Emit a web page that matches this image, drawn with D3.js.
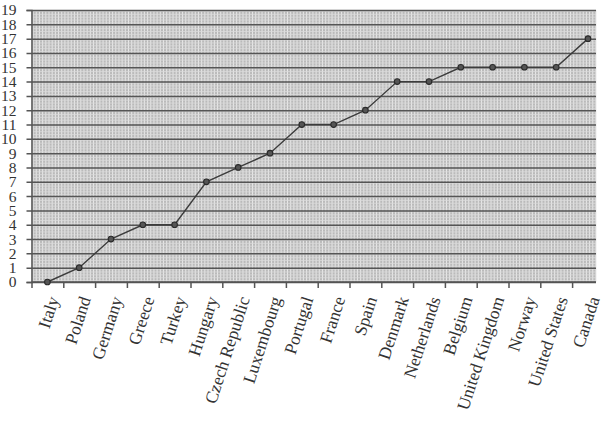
<!DOCTYPE html>
<html>
<head>
<meta charset="utf-8">
<script src="https://cdn.jsdelivr.net/npm/d3@7"></script>
<style>
  body { margin: 0; background: #fff; }
  svg text { font-family: "Liberation Serif", "DejaVu Serif", serif; fill: #333; }
</style>
</head>
<body>
<svg id="chart" width="609" height="424"></svg>
<script>
// values
var countries = ["Italy", "Poland", "Germany", "Greece", "Turkey", "Hungary", "Czech Republic",
  "Luxembourg", "Portugal", "France", "Spain", "Denmark", "Netherlands", "Belgium",
  "United Kingdom", "Norway", "United States", "Canada"];
var ranks = [0, 1, 3, 4, 4, 7, 8, 9, 11, 11, 12, 14, 14, 15, 15, 15, 15, 17];
var yTicks = d3.range(0, 20);

var svg = d3.select("#chart");
var plotLeft = 31.5, plotTop = 10, plotBottom = 282, plotRight = 596;

var x = d3.scaleBand().domain(countries).range([plotLeft, plotLeft + 18 * 31.8]);
var y = d3.scaleLinear().domain([0, 19]).range([plotBottom, plotTop]);

// gray background with fine light grid
svg.append("rect")
  .attr("x", plotLeft).attr("y", plotTop)
  .attr("width", plotRight - plotLeft).attr("height", plotBottom - plotTop)
  .attr("fill", "#bababa");

var minorX = d3.range(plotLeft + 1.6, plotRight, x.step() / 10);
svg.append("g").selectAll("line").data(minorX).join("line")
  .attr("x1", d => d).attr("x2", d => d)
  .attr("y1", plotTop).attr("y2", plotBottom)
  .attr("stroke", "#e8e8e8").attr("stroke-width", 1);

var minorY = d3.range(0, 19, 0.2);
svg.append("g").selectAll("line").data(minorY).join("line")
  .attr("x1", plotLeft).attr("x2", plotRight)
  .attr("y1", d => y(d) - 1.4).attr("y2", d => y(d) - 1.4)
  .attr("stroke", "#dadada").attr("stroke-width", 0.8);

// major horizontal gridlines, with the y axis ticks
var yAxis = d3.axisLeft(y).tickValues(yTicks).tickSize(5).tickFormat(d3.format("d"));
var gy = svg.append("g").attr("transform", "translate(" + plotLeft + ",0)").call(yAxis);
gy.select(".domain").attr("stroke", "#555").attr("stroke-width", 1.5);
gy.selectAll(".tick line").attr("stroke", "#555").attr("stroke-width", 1.5)
  .attr("x1", -5).attr("x2", plotRight - plotLeft);
gy.selectAll(".tick text")
  .attr("x", -15)
  .style("font-size", "15.5px")
  .style("font-family", "Liberation Serif, serif")
  .attr("fill", "#333");

// x axis: ticks at band edges
var xAxis = d3.axisBottom(x).tickSize(6).tickFormat("");
var gx = svg.append("g").attr("transform", "translate(0," + plotBottom + ")").call(xAxis);
gx.select(".domain").remove();
gx.selectAll(".tick").attr("transform", d => "translate(" + (x(d) + 0.5) + ",0)");
gx.selectAll(".tick line").attr("stroke", "#555").attr("stroke-width", 1.5);
svg.append("line")
  .attr("x1", plotLeft).attr("x2", plotRight)
  .attr("y1", plotBottom).attr("y2", plotBottom)
  .attr("stroke", "#555").attr("stroke-width", 1.5);

// rotated category labels
svg.append("g").selectAll("text").data(countries).join("text")
  .attr("transform", d => "translate(" + (x(d) + x.bandwidth() / 2 + 6) + "," + (plotBottom + 15) + ") rotate(-72)")
  .attr("text-anchor", "end")
  .attr("dy", "0.35em")
  .style("font-size", "17.5px")
  .text(d => d);

// line and markers
var line = d3.line()
  .x((d, i) => x(countries[i]) + x.bandwidth() / 2)
  .y(d => y(d));
svg.append("path").datum(ranks)
  .attr("d", line)
  .attr("fill", "none")
  .attr("stroke", "#3c3c3c")
  .attr("stroke-width", 1.4);

svg.append("g").selectAll("circle").data(ranks).join("circle")
  .attr("cx", (d, i) => x(countries[i]) + x.bandwidth() / 2)
  .attr("cy", d => y(d))
  .attr("r", 2.8)
  .attr("fill", "#555")
  .attr("stroke", "#2a2a2a")
  .attr("stroke-width", 1.1);
</script>
</body>
</html>
